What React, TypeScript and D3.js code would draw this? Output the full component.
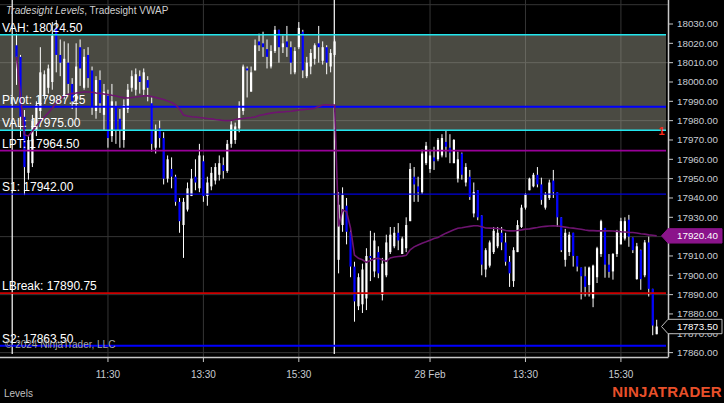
import React from 'react';
import * as d3 from 'd3';

const W = 724;
const H = 403;

// Two RTH sessions of 5-minute bars (9:35 .. 16:15)
const sessionDates = ['27 Feb', '28 Feb'];

const open = [
  18019, 18013, 17982, 17953, 17958, 17975, 17985, 17993, 17997, 18000,
  18028, 18014, 17993, 18010, 17999, 17990, 18018, 17997, 18014, 18006,
  17985, 18001, 17983, 17993, 17972, 17987, 17981, 17970, 17986, 17997,
  17996, 18003, 17996, 18001, 17989, 17966, 17976, 17971, 17950, 17955,
  17951, 17938, 17926, 17934, 17941, 17951, 17945, 17959, 17941, 17946,
  17949, 17952, 17957, 17954, 17968, 17970, 17976, 17985, 18007, 17995,
  18006, 18021, 18020, 18017, 18008, 18016, 18027, 18018, 18021, 18018,
  18005, 18018, 18026, 18003, 18008, 18012, 18020, 18011, 18018, 18008,
  18014,
  17908, 17926, 17936, 17922.5, 17904.5, 17884, 17885, 17888, 17910, 17902,
  17912, 17890, 17900, 17912, 17915, 17922, 17911, 17914, 17928, 17951,
  17946, 17943, 17958, 17955, 17961, 17960, 17962, 17969, 17966, 17958,
  17950, 17963, 17948, 17951, 17932, 17944, 17931, 17903, 17905, 17912,
  17915, 17922, 17917, 17907, 17897, 17912, 17925, 17935, 17944, 17946,
  17952, 17947, 17935, 17940, 17949, 17943, 17930, 17908, 17912, 17922,
  17910, 17904, 17899.5, 17895, 17888, 17899, 17911, 17924.5, 17905.5, 17902,
  17911, 17916, 17919, 17928.75, 17919.5, 17898, 17913, 17900, 17917, 17893,
  17869.5,
];
const high = [
  18025, 18014, 17985.5, 17972.5, 17983, 17990, 18018, 18006, 18009, 18031,
  18032, 18022, 18021, 18020, 18002, 18020, 18022, 18017, 18018, 18008,
  18003, 18006, 17999, 17996, 17999, 17990, 17986, 17991, 17999, 18006,
  18007, 18006, 18007, 18003, 17992, 17978, 17980, 17974, 17962, 17961,
  17952, 17940, 17940, 17948, 17955, 17960, 17968, 17962, 17951, 17956,
  17958, 17962, 17961, 17970, 17980, 17979, 17990, 18009, 18008, 18008,
  18022, 18025, 18026, 18022, 18019, 18029, 18027, 18024, 18029, 18021,
  18018, 18031, 18027, 18013, 18017, 18020, 18029, 18021, 18019, 18017,
  18022,
  17943, 17945.5, 17940, 17924, 17907, 17901, 17906, 17914, 17923, 17922,
  17915, 17909, 17921, 17925, 17925, 17927, 17920, 17930, 17958, 17956,
  17951, 17965, 17969, 17965, 17966.5, 17971, 17973, 17975, 17973, 17970.5,
  17964, 17963.5, 17958, 17954.5, 17948, 17944, 17931, 17914, 17918, 17925,
  17925, 17925, 17922, 17910, 17914.5, 17928.5, 17936.5, 17942.5, 17950.5, 17953,
  17956, 17950.5, 17943, 17949.5, 17954.5, 17943, 17930, 17924, 17922.5, 17922,
  17910, 17904, 17904.5, 17904.5, 17905.5, 17914.75, 17928.75, 17924.5, 17911, 17911.5,
  17923.5, 17929.75, 17930, 17931.25, 17919.5, 17916.75, 17913.25, 17918.25, 17920, 17893,
  17877,
];
const low = [
  17998.5, 17971.5, 17941.5, 17949.5, 17956, 17972, 17981, 17991, 17994, 17996,
  18005, 18003, 17991, 17994, 17986, 17981, 17998, 17996, 17997, 17983,
  17981, 17984, 17975, 17966, 17969, 17968, 17966, 17966, 17984, 17995,
  17993, 17994, 17993, 17990, 17964, 17963, 17966, 17947, 17948, 17945,
  17936, 17922, 17909, 17933, 17941, 17944, 17943, 17938, 17936, 17944,
  17947, 17949, 17950, 17953, 17966, 17968, 17974, 17983, 17992, 17995,
  18006, 18016, 18013, 18007, 18007, 18015, 18010, 18015, 18013, 18004,
  18004, 18017, 18002, 18002, 18004, 18009, 18010, 18009, 18004, 18005,
  18013,
  17901, 17922.5, 17916, 17899, 17876, 17882, 17880.5, 17882, 17897, 17899,
  17898.5, 17887, 17899, 17911, 17914, 17913, 17911, 17912, 17928, 17938,
  17938, 17942, 17957, 17953, 17954.5, 17959, 17961, 17961, 17958, 17958,
  17948, 17949.5, 17946, 17939, 17930, 17928.5, 17900, 17899, 17904, 17911,
  17914, 17913, 17905, 17894, 17894, 17912, 17924.5, 17934, 17944, 17945.5,
  17945.5, 17936.5, 17934, 17939, 17940, 17925, 17912, 17904.5, 17910, 17904.5,
  17902, 17887.5, 17889, 17889, 17883.5, 17896, 17909.5, 17898.75, 17898.75, 17897.75,
  17909.5, 17916, 17918, 17914.75, 17911.5, 17897.75, 17892.5, 17899, 17889, 17869,
  17869.5,
];
const close = [
  18013, 17982, 17956, 17970, 17980, 17988, 18005, 18004, 18007, 18024,
  18014, 18010, 18012, 17999, 17990, 18008, 18007, 18013, 18002, 17987,
  18001, 17989, 17995, 17971, 17990, 17975, 17975, 17988, 17996, 18003,
  18004, 18000, 18005, 17997, 17968, 17975, 17971, 17950, 17960, 17951,
  17938, 17928, 17938, 17945, 17950, 17948, 17962, 17941, 17948, 17953,
  17956, 17958, 17954, 17968, 17978, 17977, 17987, 18008, 18006, 18005,
  18019, 18019, 18018, 18013, 18016, 18027, 18018, 18020, 18018, 18010,
  18016, 18028, 18006, 18010, 18015, 18019, 18018, 18018, 18010, 18015,
  18021,
  17936.5, 17941.5, 17922.5, 17904.5, 17886.5, 17899, 17903, 17910, 17909, 17918,
  17901, 17906, 17917, 17921, 17922, 17918, 17919, 17926, 17955, 17947,
  17943, 17963, 17967, 17962, 17959, 17970, 17971, 17966.5, 17963.5, 17970,
  17960, 17952, 17956, 17940.5, 17943, 17930, 17905.5, 17913, 17917, 17923,
  17922, 17917, 17907, 17901, 17913, 17926, 17935, 17942, 17950, 17952,
  17947, 17939, 17942, 17948, 17943, 17930, 17913, 17922, 17921, 17910,
  17904.5, 17899.5, 17894, 17904, 17905, 17914, 17928, 17905.5, 17901.75, 17911,
  17923, 17928, 17928, 17920, 17913, 17915, 17898, 17917, 17893, 17874,
  17873.5,
];
const vwap = [
  18013, 17992.7, 17972.6, 17972.1, 17974.7, 17977.3, 17979.8, 17981.9, 17984, 17986.6,
  17989.1, 17991.2, 17992.8, 17993.5, 17994.1, 17994.3, 17994.6, 17994.8, 17994.8, 17994.7,
  17994.3, 17994.1, 17993.8, 17993.5, 17993.1, 17992.8, 17992.2, 17991.9, 17991.7, 17992,
  17992.2, 17992.5, 17992.8, 17992.8, 17992.5, 17992, 17991.5, 17991, 17990.2, 17989.4,
  17988.1, 17986, 17982.9, 17982.4, 17982, 17981.9, 17981.6, 17981.4, 17981.1, 17980.9,
  17980.6, 17980.4, 17980.1, 17980, 17980.1, 17980.6, 17980.9, 17981.1, 17981.4, 17981.6,
  17981.9, 17982.7, 17983.1, 17983.5, 17983.9, 17984.2, 17984.4, 17984.5, 17984.7, 17984.9,
  17985.2, 17985.5, 17985.7, 17985.9, 17986.1, 17986.4, 17987.3, 17988.1, 17988.2, 17988.1,
  17988.1,
  17925.2, 17933.8, 17932.8, 17924.5, 17910.5, 17908.8, 17908, 17906.7, 17907.7, 17908.5,
  17908.8, 17908, 17907.2, 17909, 17909.5, 17909.7, 17909.9, 17910.3, 17913.2, 17914.7,
  17915.7, 17916.6, 17917.3, 17918.1, 17919, 17919.6, 17920.7, 17921.8, 17922.7, 17923.5,
  17924.3, 17924.6, 17925, 17925.3, 17925.6, 17925.6, 17925.1, 17924.5, 17924.4, 17924.3,
  17924.2, 17923.8, 17923.2, 17923, 17923, 17923.2, 17923.5, 17923.9, 17924, 17924.4,
  17924.7, 17925.1, 17925.3, 17925.5, 17925.6, 17925.5, 17925.2, 17924.9, 17924.6, 17924.4,
  17924.1, 17923.8, 17923.4, 17923.1, 17923.1, 17923, 17923, 17923, 17923, 17922.9,
  17922.7, 17922.5, 17922.4, 17922.2, 17922.1, 17921.9, 17921.5, 17921.3, 17920.9, 17920.7,
  17920.4,
];

const levelNames = ['VAH', 'Pivot', 'VAL', 'LPT', 'S1', 'LBreak', 'S2'];
const levelValues = [18024.5, 17987.25, 17975.0, 17964.5, 17942.0, 17890.75, 17863.5];
const levelColors = ['#22e6ee', '#0000ff', '#22e6ee', '#990099', '#0000dd', '#cc0000', '#0000ff'];
const levelWidths = [1.5, 2, 1.5, 1.6, 1.2, 1.6, 2];

const yTickValues = [18030, 18020, 18010, 18000, 17990, 17980, 17970, 17960, 17950, 17940,
  17930, 17920, 17910, 17900, 17890, 17880, 17870, 17860];
const gridValues = [18040, 18010, 17980, 17950, 17920, 17890, 17860];

const xTickSession = [0, 0, 0, 1, 1, 1];
const xTickTimes = ['11:30', '13:30', '15:30', '11:30', '13:30', '15:30'];
const xTickLabels = ['11:30', '13:30', '15:30', '28 Feb', '13:30', '15:30'];

const FONT = '"Liberation Sans", Arial, sans-serif';

function barTime(j: number): string {
  const m = 9 * 60 + 35 + j * 5;
  const hh = Math.floor(m / 60);
  const mm = m % 60;
  return `${hh}:${mm < 10 ? '0' : ''}${mm}`;
}

export default function App() {
  const N = open.length;
  const perSession = N / sessionDates.length;
  const bars = open.map((o, i) => ({
    i,
    o,
    h: high[i],
    l: low[i],
    c: close[i],
    session: Math.floor(i / perSession),
    time: barTime(i % perSession),
  }));

  const plotRight = 668;
  const plotBottom = 357;
  const x = d3.scaleLinear().domain([0, N - 1]).range([16.5, 656.7]);
  const y = d3.scaleLinear().domain([17857.73, 18042.42]).range([plotBottom, 0]);

  const xTicks = xTickLabels.map((label, k) => {
    const b = bars.find((d) => d.session === xTickSession[k] && d.time === xTickTimes[k]);
    return { label, x: x(b ? b.i : 0) };
  });

  const sessionStarts = sessionDates.map((_, s) => x(s * perSession) - 4.3);

  const vwapLine = d3
    .line<number>()
    .x((_, i) => x(i))
    .y((d) => y(d))(vwap) as string;

  const bandTop = y(levelValues[0]);
  const bandBottom = y(levelValues[2]);
  const bw = 2.2;

  const lastClose = close[N - 1];
  const lastVwap = vwap[N - 1];
  const marker = (py: number) =>
    `M${plotRight - 6.5},${py} L${plotRight},${py - 7.2} L722,${py - 7.2} L722,${py + 7.2} L${plotRight},${py + 7.2} Z`;

  return (
    <svg
      width={W}
      height={H}
      style={{ position: 'absolute', left: 0, top: 0, background: '#000' }}
      fontFamily={FONT}
    >
      <rect x={0} y={0} width={W} height={H} fill="#000" />

      {/* grid */}
      {gridValues.map((g) => (
        <line key={'g' + g} x1={0} x2={plotRight} y1={y(g)} y2={y(g)} stroke="#353535" strokeWidth={1} />
      ))}
      {xTicks.map((t, k) => (
        <line key={'vg' + k} x1={t.x} x2={t.x} y1={0} y2={plotBottom} stroke="#353535" strokeWidth={1} />
      ))}

      {/* value area band */}
      <rect x={0} y={bandTop} width={666} height={bandBottom - bandTop} fill="rgb(165,163,146)" fillOpacity={0.45} />

      {/* session breaks */}
      {sessionStarts.map((sx, k) => (
        <line key={'sb' + k} x1={sx} x2={sx} y1={0} y2={plotBottom - 3} stroke="#ffffff" strokeWidth={1.2} />
      ))}

      {/* candles */}
      {bars.map((b) => {
        const cx = x(b.i);
        const up = b.c >= b.o;
        const top = y(Math.max(b.o, b.c));
        const bot = y(Math.min(b.o, b.c));
        return (
          <g key={'b' + b.i}>
            <line x1={cx} x2={cx} y1={y(b.h)} y2={y(b.l)} stroke="#ffffff" strokeWidth={1} />
            <rect
              x={cx - bw / 2}
              y={top}
              width={bw}
              height={Math.max(1, bot - top)}
              fill={up ? '#ffffff' : '#0000ff'}
            />
          </g>
        );
      })}

      {/* levels */}
      {levelValues.map((v, k) => (
        <line key={'lv' + k} x1={0} x2={666} y1={y(v)} y2={y(v)} stroke={levelColors[k]} strokeWidth={levelWidths[k]} />
      ))}

      {/* VWAP */}
      <path d={vwapLine} fill="none" stroke="#6e1470" strokeWidth={1.6} />

      {/* level labels */}
      {levelValues.map((v, k) => (
        <text key={'lt' + k} x={2} y={y(v) - 3} fill="#ffffff" fontSize={12}>
          {`${levelNames[k]}: ${v.toFixed(2)}`}
        </text>
      ))}

      {/* title */}
      <text x={6} y={14} fill="#cfcfcf" fontSize={10}>
        <tspan fontStyle="italic">Tradesight Levels</tspan>
        <tspan>, Tradesight VWAP</tspan>
      </text>

      <text x={5} y={347.5} fill="#a5a5a5" fontSize={10}>
        © 2024 NinjaTrader, LLC
      </text>

      {/* axes */}
      <line x1={plotRight + 0.5} x2={plotRight + 0.5} y1={0} y2={plotBottom} stroke="#c8c8c8" strokeWidth={1.5} />
      <line x1={0} x2={plotRight + 0.5} y1={plotBottom + 0.5} y2={plotBottom + 0.5} stroke="#c8c8c8" strokeWidth={1.5} />

      {yTickValues.map((v) => (
        <g key={'yt' + v}>
          <line x1={plotRight} x2={plotRight + 5} y1={y(v)} y2={y(v)} stroke="#c8c8c8" strokeWidth={1} />
          <text x={677} y={y(v)} dy="0.35em" fill="#c8ccd2" fontSize={9.8}>
            {v.toFixed(2)}
          </text>
        </g>
      ))}

      {xTicks.map((t, k) => (
        <g key={'xt' + k}>
          <line x1={t.x} x2={t.x} y1={plotBottom} y2={plotBottom + 5} stroke="#c8c8c8" strokeWidth={1} />
          <text x={t.x} y={378} textAnchor="middle" fill="#c8ccd2" fontSize={10}>
            {t.label}
          </text>
        </g>
      ))}

      {/* price markers */}
      <path d={marker(y(lastVwap))} fill="#8b148b" stroke="#8b148b" strokeWidth={1} />
      <text x={677} y={y(lastVwap)} dy="0.35em" fill="#ffffff" fontSize={9.8}>
        {lastVwap.toFixed(2)}
      </text>
      <path d={marker(y(lastClose))} fill="#000000" stroke="#bdbdbd" strokeWidth={1} />
      <text x={677} y={y(lastClose)} dy="0.35em" fill="#ffffff" fontSize={9.8}>
        {lastClose.toFixed(2)}
      </text>

      <text x={661.5} y={135} textAnchor="middle" fill="#ff2a1a" fontSize={11} fontWeight="bold">
        1
      </text>

      <text x={4} y={397} fill="#c0c0c0" fontSize={10}>
        Levels
      </text>
      <text x={722} y={397} textAnchor="end" fill="#e8502a" fontSize={15} fontWeight="bold" letterSpacing={0.3}>
        NINJATRADER
      </text>
    </svg>
  );
}
